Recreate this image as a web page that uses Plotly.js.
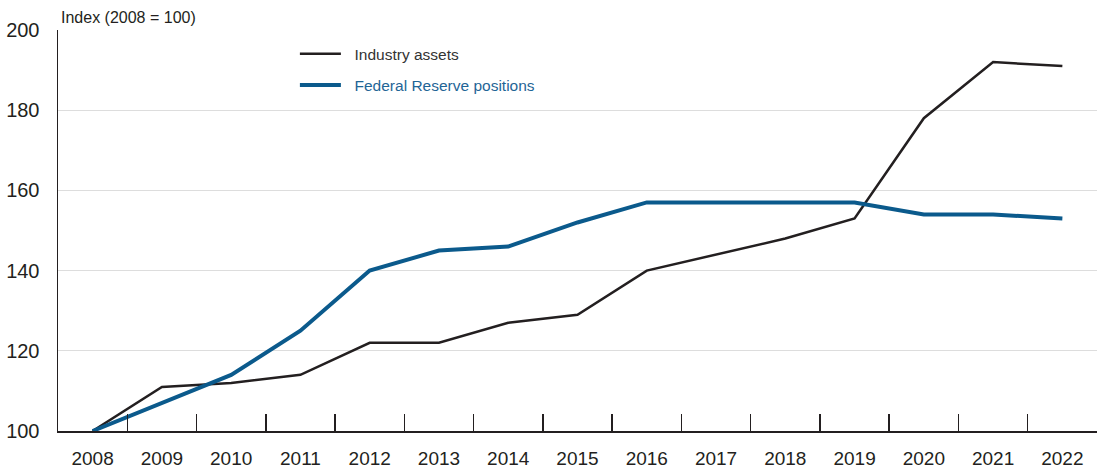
<!DOCTYPE html>
<html>
<head>
<meta charset="utf-8">
<script src="https://cdn.plot.ly/plotly-3.0.1.min.js"></script>
<style>
  body { margin: 0; background: white; }
  #chart { width: 1097px; height: 470px; }
</style>
</head>
<body>
<div id="chart"></div>
<script>
// years on the x axis
var years = ['2008', '2009', '2010', '2011', '2012', '2013', '2014', '2015',
             '2016', '2017', '2018', '2019', '2020', '2021', '2022'];

// index values, 2008 = 100
var industry_assets = [100, 111, 112, 114, 122, 122, 127, 129, 140, 144, 148, 153, 178, 192, 191];
var fed_positions   = [100, 107, 114, 125, 140, 145, 146, 152, 157, 157, 157, 157, 154, 154, 153];

var y_ticks = [100, 120, 140, 160, 180, 200];

var black = '#231f20', blue = '#0b5a8c';
var fontName = '"Liberation Sans Narrow", "Arial Narrow", "Liberation Sans", sans-serif';
var pad = '\u00a0\u00a0'; // a bit more room between legend line and text

var trace_industry = {
    x: years,
    y: industry_assets,
    name: pad + 'Industry assets',
    mode: 'lines',
    line: {color: black, width: 2.5},
    legendgroup: 'a'
};
var trace_fed = {
    x: years,
    y: fed_positions,
    name: pad + '<span style="color:#1f6596">Federal Reserve positions</span>',
    mode: 'lines',
    line: {color: blue, width: 4},
    legendgroup: 'b'
};

var layout = {
    width: 1097,
    height: 470,
    margin: {l: 58, r: 0, t: 30, b: 39},
    paper_bgcolor: 'white',
    plot_bgcolor: 'white',
    font: {family: fontName, color: '#231f20'},
    showlegend: true,
    legend: {
        x: 0.228,
        y: 0.982,
        xanchor: 'left',
        yanchor: 'top',
        bgcolor: 'rgba(0,0,0,0)',
        font: {size: 15.5, color: '#333333', family: fontName},
        traceorder: 'grouped',
        tracegroupgap: 8,
        itemwidth: 41
    },
    xaxis: {
        type: 'category',
        range: [-0.5, 14.5],
        showgrid: false,
        zeroline: false,
        showline: true,
        linecolor: black,
        linewidth: 1.5,
        tickson: 'boundaries',
        ticks: 'inside',
        ticklen: 17,
        tickwidth: 1.5,
        tickcolor: black,
        ticklabelstandoff: 10,
        tickfont: {size: 19, color: '#231f20'},
        fixedrange: true
    },
    yaxis: {
        range: [100, 200],
        tickvals: y_ticks,
        showgrid: true,
        gridcolor: '#dddddd',
        gridwidth: 1.3,
        zeroline: false,
        showline: true,
        linecolor: black,
        linewidth: 1.5,
        ticks: 'outside',
        ticklen: 13,
        tickcolor: 'rgba(0,0,0,0)',
        tickfont: {size: 20, color: '#231f20'},
        fixedrange: true
    },
    annotations: [{
        text: 'Index (2008 = 100)',
        xref: 'paper', yref: 'paper',
        x: 0, y: 1,
        xanchor: 'left', yanchor: 'bottom',
        xshift: 1, yshift: 2,
        showarrow: false,
        font: {size: 16, color: '#231f20', family: fontName}
    }]
};

Plotly.newPlot('chart', [trace_industry, trace_fed], layout, {displayModeBar: false, staticPlot: true});
</script>
</body>
</html>
